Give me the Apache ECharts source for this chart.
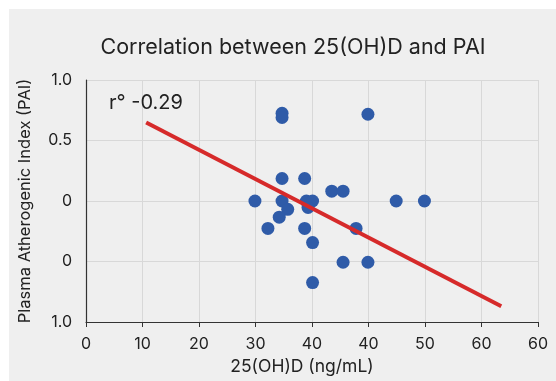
<!DOCTYPE html>
<html><head><meta charset="utf-8">
<script src="https://cdn.jsdelivr.net/npm/echarts@6/dist/echarts.min.js"></script>
<style>html,body{margin:0;padding:0;background:#fff}#c{width:556px;height:381px}</style>
</head><body><div id="c"></div>
<script>
var titleText = "Correlation between 25(OH)D and PAI";
var xTickLabels = ["0","10","20","30","40","40","50","60","60"];
var yTickLabels = {"-1":"1.0","-0.5":"0","0":"0","0.5":"0.5","1":"1.0"};
var vitD = [34.7,34.7,49.9,34.7,38.7,43.5,45.5,29.9,34.7,39.0,40.1,35.7,39.3,34.2,32.2,38.7,47.8,40.1,45.5,49.9,40.1,54.9,59.9];
var pai  = [0.725,0.69,0.717,0.186,0.186,0.081,0.081,0.0,0.0,0.0,0.0,-0.069,-0.053,-0.134,-0.227,-0.227,-0.227,-0.344,-0.506,-0.506,-0.674,0.0,0.0];
var fitX = [10.65,73.5];
var fitY = [0.649,-0.87];
var rLabel = "r° -0.29";

var pts = vitD.map(function(v,i){return [v,pai[i]];});
var fit = fitX.map(function(v,i){return [v,fitY[i]];});
var font = "Inter, 'Noto Sans', sans-serif";
var chart = echarts.init(document.getElementById('c'));
chart.setOption({
  backgroundColor:'#ffffff',
  animation:false,
  textStyle:{fontFamily:font},
  graphic:[
    {type:'rect',shape:{x:9,y:9,width:560,height:380},style:{fill:'#efefef'},z:-10,silent:true},
    {type:'text',x:293,y:48,style:{text:titleText,fontSize:21.5,fill:'#222',fontFamily:font,textAlign:'center',textVerticalAlign:'middle'},z:10},
    {type:'text',x:109,y:103,style:{text:rLabel,fontSize:20,fill:'#222',fontFamily:font,textVerticalAlign:'middle'},z:10}
  ],
  grid:{left:86,right:18,top:80,bottom:54},
  xAxis:{type:'value',min:0,max:80,interval:10,
    name:'25(OH)D (ng/mL)',nameLocation:'middle',nameGap:36,
    nameTextStyle:{fontSize:17.5,color:'#222',fontFamily:font,padding:[0,20,0,0]},
    axisLine:{onZero:false,lineStyle:{color:'#333',width:1.2}},
    axisTick:{show:true,length:5,lineStyle:{color:'#333'}},
    axisLabel:{fontSize:16,color:'#222',margin:14,formatter:function(v){return xTickLabels[Math.round(v/10)];}},
    splitLine:{show:true,lineStyle:{color:'#d8d8d8',width:1}}
  },
  yAxis:{type:'value',min:-1,max:1,interval:0.5,
    name:'Plasma Atherogenic Index (PAI)',nameLocation:'middle',nameGap:52,
    nameTextStyle:{fontSize:16.5,color:'#222',fontFamily:font},
    axisLine:{show:true,onZero:false,lineStyle:{color:'#333',width:1.2}},
    axisTick:{show:false},
    axisLabel:{fontSize:16,color:'#222',margin:14,formatter:function(v){return yTickLabels[String(v)];}},
    splitLine:{show:true,lineStyle:{color:'#d8d8d8',width:1}}
  },
  series:[
    {type:'scatter',data:pts,symbolSize:13,itemStyle:{color:'#2f5ba8',opacity:1},z:3},
    {type:'line',data:fit,symbol:'none',lineStyle:{color:'#d62a2a',width:4},z:4}
  ]
});
</script></body></html>
